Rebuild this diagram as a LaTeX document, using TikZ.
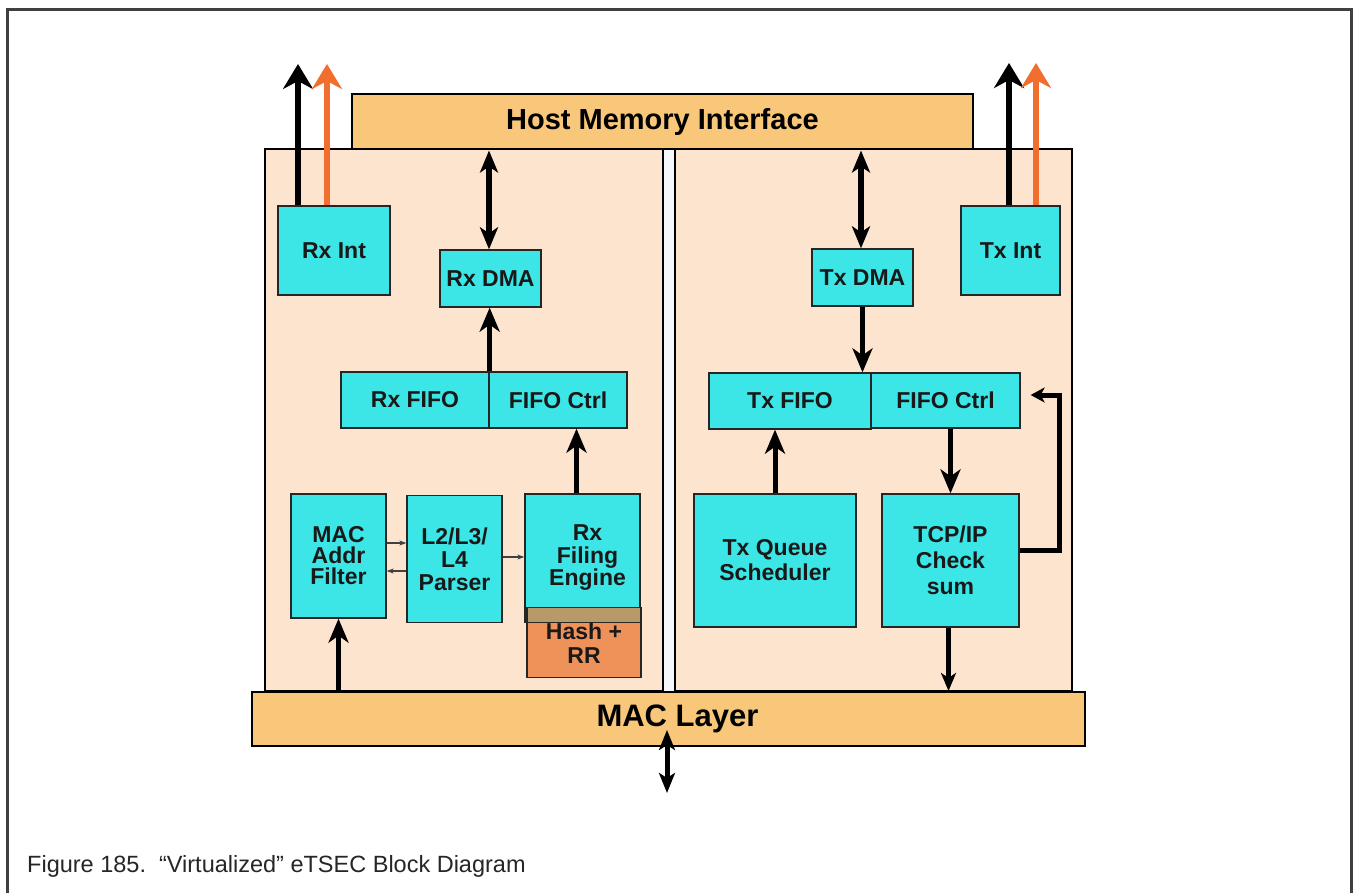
\documentclass[tikz,border=0pt]{standalone}
\usepackage{fontspec}
\setmainfont{Liberation Sans}
\usetikzlibrary{arrows.meta,calc}
\definecolor{cyanbox}{HTML}{3CE6E6}
\definecolor{peach}{HTML}{FDE4CE}
\definecolor{barorange}{HTML}{F9C77A}
\definecolor{hashfill}{HTML}{EF9259}
\definecolor{bandfill}{HTML}{B89A6A}
\definecolor{arroworange}{HTML}{F26E2E}
\definecolor{framegray}{HTML}{404040}
\definecolor{gapwhite}{HTML}{F4F8FC}
\tikzset{
  panel/.style={draw=black, line width=2pt, fill=peach, inner sep=0pt},
  bar/.style={draw=black, line width=2pt, fill=barorange, inner sep=0pt, font=\bfseries\fontsize{29}{30}\selectfont},
  blk/.style={draw=black!85, line width=1.3pt, fill=cyanbox, inner sep=0pt, align=center,
    text=black!90, font=\bfseries\fontsize{23}{22}\selectfont},
  bigarrow/.style={line width=6pt, -{Stealth[length=25pt,width=30pt,inset=8pt]}},
  dblarrow/.style={line width=6pt, {Stealth[length=22pt,width=18pt,inset=6pt]}-{Stealth[length=22pt,width=18pt,inset=6pt]}},
  midarrow/.style={line width=5pt, -{Stealth[length=24pt,width=20pt,inset=7pt]}},
  smallarrow/.style={line width=5pt, -{Stealth[length=18pt,width=15pt,inset=5pt]}},
  thinarrow/.style={line width=1.2pt, draw=black!75, -{Stealth[length=7pt,width=5pt]}},
}
\begin{document}
\begin{tikzpicture}[x=1pt,y=-1pt]
\useasboundingbox (0,0) rectangle (1354,893);
\fill[white] (0,0) rectangle (1354,893);
% frame
\draw[framegray, line width=3pt] (7,893) -- (7,10) -- (1351,10) -- (1351,893);

% panels
\fill[gapwhite] (663,149) rectangle (675,691);
\node[panel, minimum width=398pt, minimum height=542pt] (lp) at (464,420) {};
\node[panel, minimum width=397pt, minimum height=542pt] (rp) at (873.5,420) {};
\node[bar, minimum width=621pt, minimum height=55pt] (hmi) at (662.5,122) {Host Memory Interface};
\node[bar, minimum width=833pt, minimum height=54pt, font=\bfseries\fontsize{31}{31}\selectfont] (mac) at (668.5,719) {\hspace{18pt}MAC Layer};

% Rx side
\node[blk, minimum width=112pt, minimum height=89pt] (rxint) at (334,250.5) {Rx Int};
\node[blk, minimum width=101pt, minimum height=57pt] (rxdma) at (490.5,278.5) {Rx DMA};
\node[blk, minimum width=148pt, minimum height=56pt] (rxfifo) at (415,400) {Rx FIFO};
\node[blk, minimum width=138pt, minimum height=56pt] (rxctrl) at (558,400) {FIFO Ctrl};
\node[blk, minimum width=95pt, minimum height=124pt, font=\bfseries\fontsize{23}{21}\selectfont] (filter) at (338.5,556) {MAC\\Addr\\Filter};
\node[blk, minimum width=95pt, minimum height=127pt, font=\bfseries\fontsize{23}{23}\selectfont] (parser) at (454.5,559) {L2/L3/\\L4\\Parser};
\node[blk, minimum width=115pt, minimum height=128pt, font=\bfseries\fontsize{23}{22.5}\selectfont] (filing) at (582.5,558) {\hspace{10pt}Rx\\\hspace{10pt}Filing\\\hspace{10pt}Engine};
\node[blk, fill=hashfill, minimum width=114pt, minimum height=70pt, font=\bfseries\fontsize{23}{24}\selectfont,
  path picture={
    \fill[bandfill] (path picture bounding box.north west) rectangle ([yshift=-15pt]path picture bounding box.north east);
    \draw[black!85, line width=1.3pt] ([yshift=-15pt]path picture bounding box.north west) -- ([yshift=-15pt]path picture bounding box.north east);
  }] (hash) at (584,642.5) {\\[-6pt]Hash +\\RR};

% Tx side
\node[blk, minimum width=99pt, minimum height=89pt] (txint) at (1010.5,250.5) {Tx Int};
\node[blk, minimum width=101pt, minimum height=57pt] (txdma) at (862.5,277.5) {Tx DMA};
\node[blk, minimum width=162pt, minimum height=56pt] (txfifo) at (790,401) {Tx FIFO};
\node[blk, minimum width=149pt, minimum height=55pt] (txctrl) at (945.5,400.5) {FIFO Ctrl};
\node[blk, minimum width=162pt, minimum height=133pt, font=\bfseries\fontsize{23}{25}\selectfont] (txq) at (775,560.5) {Tx Queue\\Scheduler};
\node[blk, minimum width=137pt, minimum height=133pt, font=\bfseries\fontsize{23}{26}\selectfont] (tcp) at (950.5,560.5) {TCP/IP\\Check\\sum};

% interrupt arrows
\coordinate (rxk) at (298,64);
\coordinate (rxo) at (327,64);
\coordinate (txk) at (1009,63);
\coordinate (txo) at (1036,63);
\draw[bigarrow] (rxint.north -| rxk) -- (rxk);
\draw[bigarrow, draw=arroworange, color=arroworange] (rxint.north -| rxo) -- (rxo);
\draw[bigarrow] (txint.north -| txk) -- (txk);
\draw[bigarrow, draw=arroworange, color=arroworange] (txint.north -| txo) -- (txo);

% host memory double arrows
\draw[dblarrow] ([xshift=-1.5pt]rxdma.north) -- ([xshift=-1.5pt]rxdma.north |- hmi.south);
\draw[dblarrow] ([xshift=-1.5pt]txdma.north) -- ([xshift=-1.5pt]txdma.north |- hmi.south);

% Rx data path
\draw[midarrow] (rxfifo.north east) -- (rxfifo.north east |- rxdma.south);
\draw[midarrow] ([xshift=-6pt]filing.north) -- ([xshift=-6pt]filing.north |- rxctrl.south);
\draw[midarrow] (filter.south |- mac.north) -- (filter.south);
\draw[thinarrow] (filter.east |- 0,543) -- (parser.west |- 0,543);
\draw[thinarrow] (parser.west |- 0,571) -- (filter.east |- 0,571);
\draw[thinarrow] (parser.east |- 0,557) -- (filing.west |- 0,557);

% Tx data path
\draw[midarrow] (txdma.south) -- (txdma.south |- txfifo.north);
\draw[midarrow] (txq.north) -- (txq.north |- txfifo.south);
\draw[midarrow] (tcp.north |- txctrl.south) -- (tcp.north);
\draw[smallarrow] ([xshift=-2pt]tcp.south) -- ([xshift=-2pt]tcp.south |- mac.north);
\coordinate (fb) at (1059,395);
\draw[line width=5pt, -{Stealth[length=14pt,width=15pt,inset=4pt]}]
  (tcp.east |- 0,550) -- (fb |- 0,550) -- (fb) -- ([xshift=10pt]txctrl.east |- fb);

% MAC external double arrow
\coordinate (macout) at (667,793);
\draw[line width=5pt, {Stealth[length=20pt,width=16pt,inset=5pt]}-{Stealth[length=20pt,width=16pt,inset=5pt]}]
  (macout |- 0,730) -- (macout);

% caption
\node[anchor=west, inner sep=0pt, text=black!85, font=\fontsize{23.5}{24}\selectfont] (cap) at (27,866)
  {Figure 185.\ \ “Virtualized” eTSEC Block Diagram};
\end{tikzpicture}
\end{document}
